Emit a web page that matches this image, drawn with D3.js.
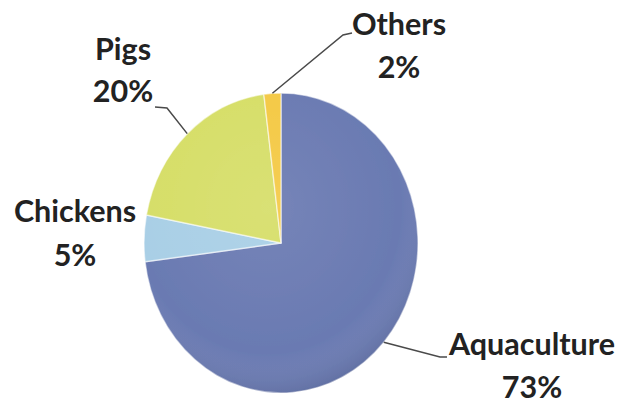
<!DOCTYPE html>
<html>
<head>
<meta charset="utf-8">
<script src="https://cdn.jsdelivr.net/npm/d3@7/dist/d3.min.js"></script>
<style>
  html, body { margin: 0; padding: 0; background: #fff; }
  svg { display: block; }
</style>
</head>
<body>
<svg id="chart" width="623" height="403"></svg>
<script>
// Share of use by sector (percent)
const categories = ["Aquaculture", "Chickens", "Pigs", "Others"];
const values = [73, 5, 20, 2];
const percentLabels = ["73%", "5%", "20%", "2%"];
const colors = ["#6a7ab2", "#a9cfe6", "#d6de68", "#f4c945"];

// Label placement: text centre, first baseline, and leader elbow/end points
const labelLayout = [
  { x: 532, y: 355, dy: 43, elbow: [440, 357], end: [447, 357] },
  { x: 75,  y: 222, dy: 44, elbow: null, end: null },
  { x: 123, y: 60,  dy: 42, elbow: [167, 108], end: [155, 107] },
  { x: 399, y: 35,  dy: 43, elbow: [343, 35], end: [352, 33] }
];

const svg = d3.select("#chart");
const cx = 281, cy = 243, rx = 137, ry = 150;
const sy = ry / rx;

const defs = svg.append("defs");

// Soft lighting over the whole disc
const shade = defs.append("radialGradient")
  .attr("id", "shade").attr("cx", "45%").attr("cy", "38%").attr("r", "65%");
shade.append("stop").attr("offset", "0%").attr("stop-color", "#fff").attr("stop-opacity", 0.08);
shade.append("stop").attr("offset", "75%").attr("stop-color", "#fff").attr("stop-opacity", 0);
shade.append("stop").attr("offset", "100%").attr("stop-color", "#1a2240").attr("stop-opacity", 0.18);

const blur = defs.append("filter").attr("id", "soft").attr("x", "-10%").attr("y", "-10%").attr("width", "120%").attr("height", "120%");
blur.append("feGaussianBlur").attr("stdDeviation", 0.6);

const pie = d3.pie().sort(null).value(d => d)(values);
const arc = d3.arc().innerRadius(0).outerRadius(rx);

const g = svg.append("g")
  .attr("transform", `translate(${cx},${cy}) scale(1,${sy})`)
  .attr("filter", "url(#soft)");

g.selectAll("path.slice")
  .data(pie)
  .join("path")
  .attr("class", "slice")
  .attr("d", arc)
  .attr("fill", (d, i) => colors[i])
  .attr("stroke", "rgba(255,255,255,0.55)")
  .attr("stroke-width", 1.4)
  .attr("stroke-linejoin", "round");

g.append("ellipse")
  .attr("rx", rx).attr("ry", rx)
  .attr("fill", "url(#shade)")
  .attr("pointer-events", "none");

// Leader lines from each slice's outer-edge midpoint
const edgePoint = d => {
  const a = (d.startAngle + d.endAngle) / 2;
  return [cx + rx * Math.sin(a), cy - rx * Math.cos(a) * sy];
};

pie.forEach((d, i) => {
  const L = labelLayout[i];
  if (!L.elbow) return;
  const p = edgePoint(d);
  svg.append("path")
    .attr("d", d3.line()([p, L.elbow, L.end]))
    .attr("fill", "none")
    .attr("stroke", "#4a4a4a")
    .attr("stroke-width", 1.5);
});

// Category and percentage labels
pie.forEach((d, i) => {
  const L = labelLayout[i];
  const t = svg.append("text")
    .attr("text-anchor", "middle")
    .attr("font-family", "Lato, 'Open Sans', sans-serif")
    .attr("font-weight", 700)
    .attr("font-size", 30.5)
    .attr("fill", "#222");
  t.append("tspan").attr("x", L.x).attr("y", L.y).text(categories[i]);
  t.append("tspan").attr("x", L.x).attr("y", L.y + L.dy).text(percentLabels[i]);
});
</script>
</body>
</html>
